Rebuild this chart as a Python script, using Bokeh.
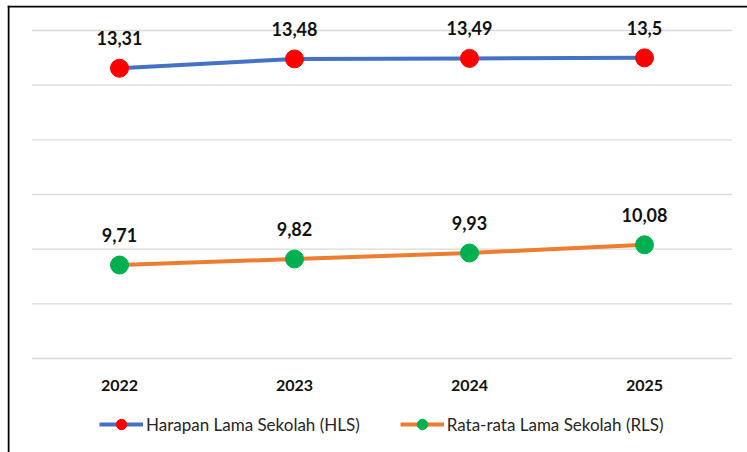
from bokeh.plotting import figure
from bokeh.models import ColumnDataSource, LabelSet, Legend, LegendItem, Range1d, Span
from bokeh.core.properties import value
from bokeh.embed import file_html
from bokeh.resources import INLINE

years = ["2022", "2023", "2024", "2025"]
hls = [13.31, 13.48, 13.49, 13.5]
rls = [9.71, 9.82, 9.93, 10.08]
grid_ticks = [8, 9, 10, 11, 12, 13, 14]
hls_name = "Harapan Lama Sekolah (HLS)"
rls_name = "Rata-rata Lama Sekolah (RLS)"

def fmt(v):
    return str(v).replace(".", ",")

xs = list(range(len(years)))
src_h = ColumnDataSource(dict(x=xs, y=hls, t=[fmt(v) for v in hls]))
src_r = ColumnDataSource(dict(x=xs, y=rls, t=[fmt(v) for v in rls]))
src_yr = ColumnDataSource(dict(x=xs, y=[min(grid_ticks)] * len(years), t=years))
src_g = ColumnDataSource(dict(x0=[-0.5] * len(grid_ticks), x1=[len(years) - 0.5] * len(grid_ticks),
                              y=grid_ticks))

FONT = "Lato"
W, H = 747, 452
FL, FT = 7, 5            # frame offset (chart-area border position)
FW, FH = W - FL, H - FT
KX = 175.0               # px per category
KY = 328.0 / 6           # px per unit

p = figure(width=W, height=H,
           x_range=Range1d(-(119 - FL) / KX, -(119 - FL) / KX + FW / KX),
           y_range=Range1d(8 - (H - 358) / KY, 14 + (30 - FT) / KY),
           output_backend="svg", toolbar_location=None,
           min_border_left=FL, min_border_right=0, min_border_top=FT, min_border_bottom=0)
p.outline_line_color = None
p.background_fill_color = "white"
p.border_fill_color = "white"
p.xaxis.visible = False
p.yaxis.visible = False
p.xgrid.visible = False
p.ygrid.visible = False

# chart-area border (left and top edges)
p.add_layout(Span(location=1, dimension="height", location_units="screen",
                  line_color="black", line_width=2))
p.add_layout(Span(location=FH - 1, dimension="width", location_units="screen",
                  line_color="black", line_width=2))

# horizontal gridlines
p.segment(x0="x0", x1="x1", y0="y", y1="y", source=src_g, line_color="#D9D9D9", line_width=1.3)

lh = p.line("x", "y", source=src_h, line_color="#4472C4", line_width=4)
ch = p.scatter("x", "y", source=src_h, size=18, fill_color="#FF0000", line_color="#FF0000")
lr = p.line("x", "y", source=src_r, line_color="#ED7D31", line_width=4)
cr = p.scatter("x", "y", source=src_r, size=18, fill_color="#00B050", line_color="#00B050")

for s in (src_h, src_r):
    p.add_layout(LabelSet(x="x", y="y", text="t", source=s, text_align="center",
                          text_baseline="alphabetic", y_offset=23,
                          text_font=value(FONT), text_font_style="bold",
                          text_font_size="18px", text_color="#111111"))

# category labels
p.add_layout(LabelSet(x="x", y="y", text="t", source=src_yr, text_align="center",
                      text_baseline="alphabetic", y_offset=-32,
                      text_font=value(FONT), text_font_style="bold",
                      text_font_size="16px", text_color="#111111"))

legend = Legend(items=[LegendItem(label=hls_name, renderers=[lh, ch]),
                       LegendItem(label=rls_name, renderers=[lr, cr])],
                orientation="horizontal", location=(99 - FL, 15),
                glyph_width=44, glyph_height=26, label_standoff=3, spacing=40,
                label_text_font=FONT, label_text_font_size="17px", label_text_color="#262626",
                background_fill_alpha=0, border_line_color=None, padding=0, margin=0)
p.add_layout(legend, "center")

open("out.html", "w").write(file_html(p, INLINE))
